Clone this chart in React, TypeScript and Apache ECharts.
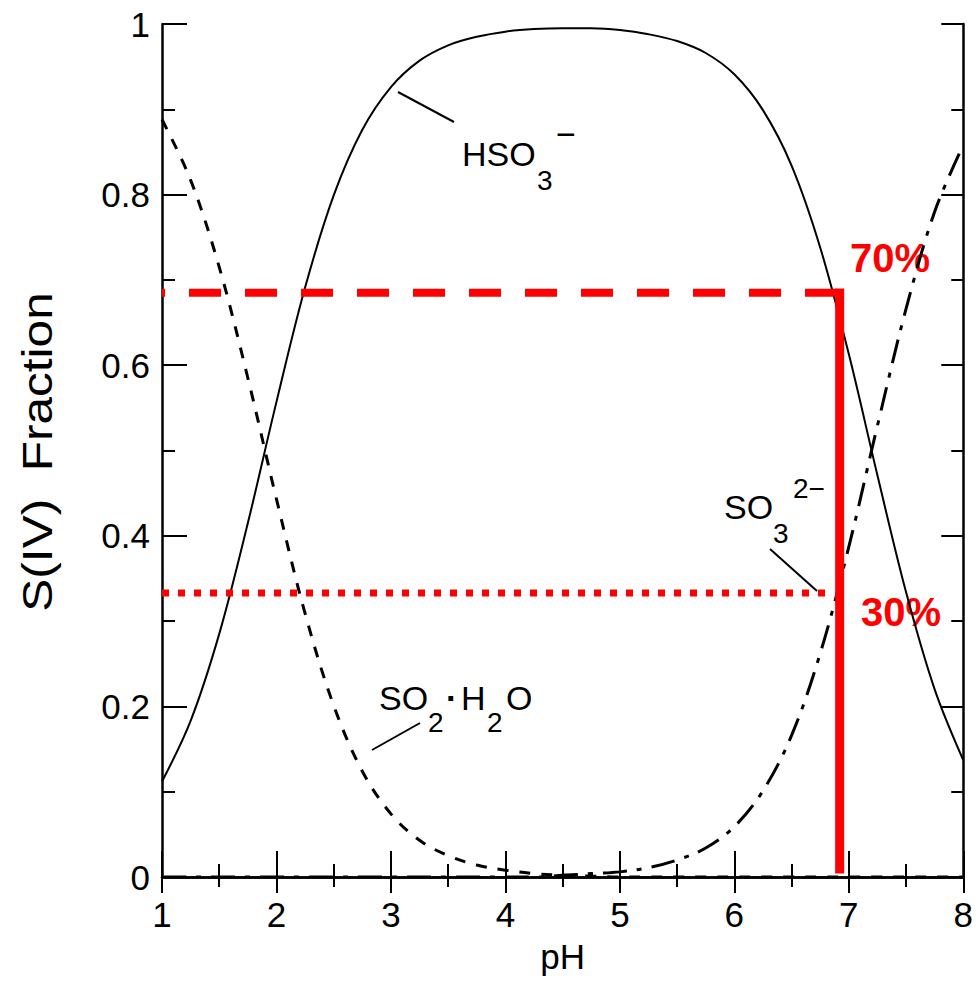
import React, { useEffect, useRef } from "react";
import * as echarts from "echarts";

// pH grid (x values)
const pH = [1, 1.25, 1.5, 1.75, 2, 2.25, 2.5, 2.75, 3, 3.25, 3.5, 3.75, 4, 4.25, 4.5, 4.75, 5, 5.25, 5.5, 5.75, 6, 6.25, 6.5, 6.75, 7, 7.25, 7.5, 7.75, 8];
// S(IV) fractions
const so2H2O = [0.888, 0.817, 0.715, 0.585, 0.443, 0.309, 0.201, 0.124, 0.074, 0.043, 0.025, 0.014, 0.008, 0.004, 0.002, 0.001, 0, 0, 0, 0, 0, 0, 0, 0, 0, 0, 0, 0, 0];
const hso3 = [0.112, 0.183, 0.285, 0.415, 0.557, 0.691, 0.799, 0.876, 0.926, 0.957, 0.975, 0.985, 0.991, 0.994, 0.995, 0.995, 0.993, 0.988, 0.98, 0.966, 0.941, 0.899, 0.834, 0.738, 0.613, 0.471, 0.334, 0.22, 0.137];
const so3 = [0, 0, 0, 0, 0, 0, 0, 0, 0, 0, 0, 0, 0, 0, 0.002, 0.004, 0.006, 0.011, 0.02, 0.034, 0.059, 0.101, 0.166, 0.262, 0.387, 0.529, 0.666, 0.78, 0.858];

// red reference lines
const refHigh = 0.685;
const refLow = 0.333;
const refPH = 6.92;
const refLowEndPH = 6.8;
const refLabels = ["70%", "30%"];

const axisNames = { x: "pH", y: "S(IV)  Fraction" };

const FONT = "'Liberation Sans', Arial, Helvetica, sans-serif";

function pair(xs: number[], ys: number[]) {
  return xs.map((x, i) => [x, ys[i]]);
}

export default function App() {
  const ref = useRef<HTMLDivElement>(null);
  useEffect(() => {
    const chart = echarts.init(ref.current!, null, { renderer: "svg" });
    const black = "#000";
    const tickLine = { color: black, width: 2 };
    const baseText = { fontFamily: FONT, fill: black };
    chart.setOption({
      animation: false,
      backgroundColor: "#fff",
      grid: { left: 162, top: 24, width: 807, height: 853, containLabel: false },
      xAxis: [
        {
          type: "value", min: 1, max: 8, interval: 1, position: "bottom",
          axisLine: { lineStyle: { color: black, width: 2.5 } },
          axisTick: { inside: true, length: 26, lineStyle: tickLine },
          minorTick: { show: true, splitNumber: 2, length: 13, lineStyle: tickLine },
          splitLine: { show: false },
          axisLabel: { color: black, fontSize: 35, fontFamily: FONT, margin: 20 },
          name: axisNames.x, nameLocation: "middle", nameGap: 62,
          nameTextStyle: { color: black, fontSize: 35, fontFamily: FONT },
        },
        {
          type: "value", min: 1, max: 8, interval: 1, position: "top",
          axisLine: { lineStyle: { color: black, width: 2.5 } },
          axisTick: { inside: true, length: 16, lineStyle: tickLine },
          minorTick: { show: true, splitNumber: 2, length: 10, lineStyle: tickLine },
          splitLine: { show: false },
          axisLabel: { show: false },
        },
      ],
      yAxis: [
        {
          type: "value", min: 0, max: 1, interval: 0.2, position: "left",
          axisLine: { lineStyle: { color: black, width: 2.5 } },
          axisTick: { inside: true, length: 25, lineStyle: tickLine },
          minorTick: { show: true, splitNumber: 2, length: 13, lineStyle: tickLine },
          splitLine: { show: false },
          axisLabel: { color: black, fontSize: 35, fontFamily: FONT, margin: 12 },
        },
        {
          type: "value", min: 0, max: 1, interval: 0.2, position: "right",
          axisLine: { lineStyle: { color: black, width: 2.5 } },
          axisTick: { inside: true, length: 22, lineStyle: tickLine },
          minorTick: { show: true, splitNumber: 2, length: 12, lineStyle: tickLine },
          splitLine: { show: false },
          axisLabel: { show: false },
        },
      ],
      series: [
        {
          name: "HSO3-", type: "line", data: pair(pH, hso3), smooth: 0.35, symbol: "none",
          lineStyle: { color: black, width: 2 },
        },
        {
          name: "SO2·H2O", type: "line", data: pair(pH, so2H2O), smooth: 0.35, symbol: "none",
          lineStyle: { color: black, width: 3, type: [11, 11] },
        },
        {
          name: "SO3 2-", type: "line", data: pair(pH, so3), smooth: 0.35, symbol: "none",
          lineStyle: { color: black, width: 3, type: [24, 10, 5, 10] },
        },
        {
          name: refLabels[0] + " line", type: "line", data: [[1, refHigh], [refPH, refHigh]], symbol: "none",
          lineStyle: { color: "#ff0000", width: 8, type: [32, 24], dashOffset: 29 }, z: 5,
        },
        {
          name: refLabels[1] + " line", type: "line", data: [[1, refLow], [refLowEndPH, refLow]], symbol: "none",
          lineStyle: { color: "#ff0000", width: 7, type: [7, 9] }, z: 5,
        },
        {
          name: "pH line", type: "line", data: [[refPH, 0.004], [refPH, refHigh + 0.005]], symbol: "none",
          lineStyle: { color: "#ff0000", width: 9 }, z: 5,
        },
      ],
      graphic: [
        // y-axis title (stretched along its length like the scanned original)
        {
          type: "text", x: 37, y: 452, rotation: Math.PI / 2, scaleX: 1.18,
          style: { ...baseText, text: axisNames.y, fontSize: 42, align: "center", verticalAlign: "middle" },
        },
        // HSO3-
        { type: "line", shape: { x1: 398, y1: 92, x2: 454, y2: 122 }, style: { stroke: black, lineWidth: 2 } },
        { type: "text", x: 462, y: 154, style: { ...baseText, text: "HSO", fontSize: 34, verticalAlign: "middle" } },
        { type: "text", x: 537, y: 180, style: { ...baseText, text: "3", fontSize: 28, verticalAlign: "middle" } },
        { type: "text", x: 556, y: 134, style: { ...baseText, text: "\u2212", fontSize: 34, verticalAlign: "middle" } },
        // SO2·H2O
        { type: "line", shape: { x1: 372, y1: 750, x2: 420, y2: 723 }, style: { stroke: black, lineWidth: 2 } },
        { type: "text", x: 379, y: 698, style: { ...baseText, text: "SO", fontSize: 34, verticalAlign: "middle" } },
        { type: "text", x: 428, y: 722, style: { ...baseText, text: "2", fontSize: 28, verticalAlign: "middle" } },
        { type: "text", x: 446, y: 698, style: { ...baseText, text: "\u00b7", fontSize: 34, fontWeight: "bold", verticalAlign: "middle" } },
        { type: "text", x: 461, y: 698, style: { ...baseText, text: "H", fontSize: 34, verticalAlign: "middle" } },
        { type: "text", x: 487, y: 722, style: { ...baseText, text: "2", fontSize: 28, verticalAlign: "middle" } },
        { type: "text", x: 506, y: 698, style: { ...baseText, text: "O", fontSize: 34, verticalAlign: "middle" } },
        // SO3 2-
        { type: "line", shape: { x1: 770, y1: 549, x2: 817, y2: 591 }, style: { stroke: black, lineWidth: 2 } },
        { type: "text", x: 724, y: 507, style: { ...baseText, text: "SO", fontSize: 34, verticalAlign: "middle" } },
        { type: "text", x: 773, y: 533, style: { ...baseText, text: "3", fontSize: 28, verticalAlign: "middle" } },
        { type: "text", x: 793, y: 488, style: { ...baseText, text: "2\u2212", fontSize: 28, verticalAlign: "middle" } },
        // red percentage labels
        { type: "text", x: 850, y: 258, style: { fontFamily: FONT, fill: "#ff0000", text: refLabels[0], fontSize: 40, fontWeight: "bold", verticalAlign: "middle" } },
        { type: "text", x: 861, y: 612, style: { fontFamily: FONT, fill: "#ff0000", text: refLabels[1], fontSize: 40, fontWeight: "bold", verticalAlign: "middle" } },
      ],
    });
    return () => chart.dispose();
  }, []);
  return (
    <div
      ref={ref}
      style={{ position: "absolute", left: 0, top: 0, width: 976, height: 981, background: "#fff" }}
    />
  );
}
